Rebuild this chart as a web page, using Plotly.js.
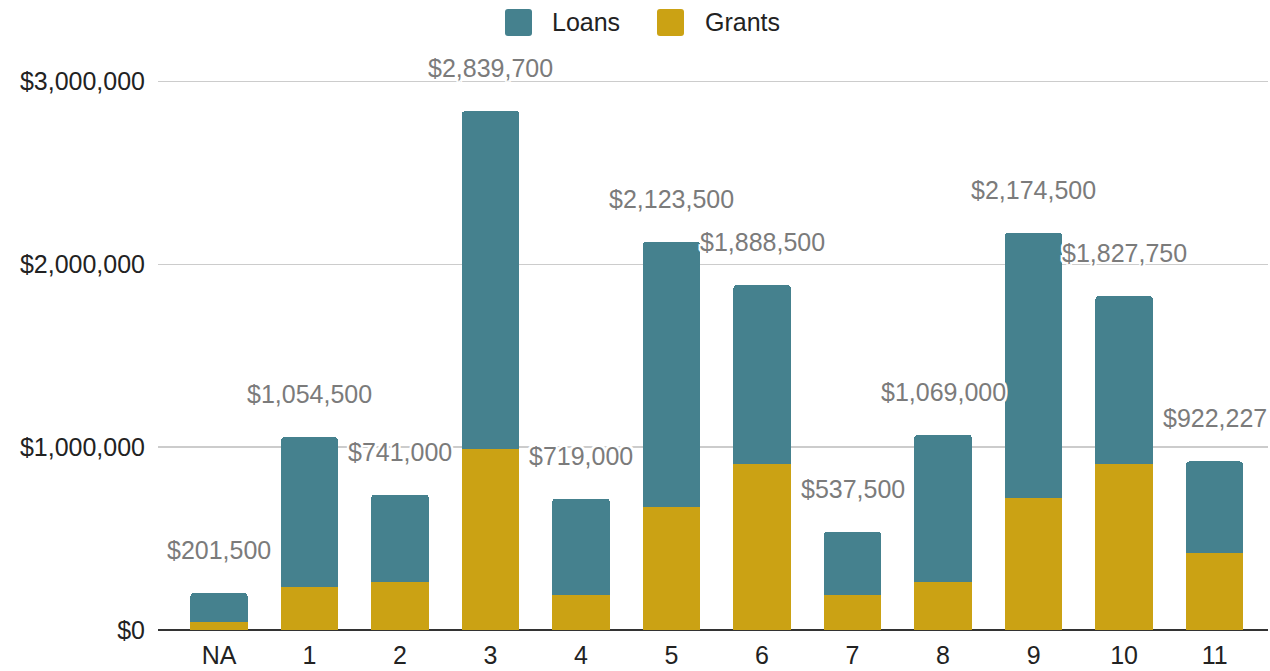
<!DOCTYPE html>
<html>
<head>
<meta charset="utf-8">
<script src="https://cdn.plot.ly/plotly-3.0.1.min.js"></script>
<style>html,body{margin:0;padding:0;background:#fff;}#chart{width:1270px;height:671px;}</style>
</head>
<body>
<div id="chart"></div>
<script>
const categories = ["NA", "1", "2", "3", "4", "5", "6", "7", "8", "9", "10", "11"];
const grants = [42000, 238000, 262000, 990000, 189000, 671000, 906000, 189000, 262000, 721000, 906000, 422000];
const loans = [159500, 816500, 479000, 1849700, 530000, 1452500, 982500, 348500, 807000, 1453500, 921750, 500227];
const totals = [201500, 1054500, 741000, 2839700, 719000, 2123500, 1888500, 537500, 1069000, 2174500, 1827750, 922227];
const seriesNames = ["Loans", "Grants"];
const yTicks = [0, 1000000, 2000000, 3000000];
const yTickLabels = ["$0", "$1,000,000", "$2,000,000", "$3,000,000"];

const LOAN_COLOR = "#45818e";
const GRANT_COLOR = "#cba214";
const FONT = "'Liberation Sans', Arial, sans-serif";

const traces = [
  {type: "bar", name: seriesNames[1], x: categories, y: grants, marker: {color: GRANT_COLOR}, hoverinfo: "skip"},
  {type: "bar", name: seriesNames[0], x: categories, y: loans, marker: {color: LOAN_COLOR}, hoverinfo: "skip"}
];

const halo = "-2px -2px 0 #fff, 2px -2px 0 #fff, -2px 2px 0 #fff, 2px 2px 0 #fff, 0 2px 0 #fff, 0 -2px 0 #fff, 2px 0 0 #fff, -2px 0 0 #fff";

const annotations = categories.map((c, i) => ({
  x: c, y: totals[i], xref: "x", yref: "y",
  text: "$" + totals[i].toLocaleString("en-US"),
  showarrow: false, yanchor: "middle", xanchor: "center", yshift: 43,
  font: {family: FONT, size: 25, color: "#7b7b7b", shadow: halo}
}));

// legend (drawn with paper-referenced shapes + text)
const PL = 158, PW = 1110, PB = 630, PH = 552;
const px2x = p => (p - PL) / PW;
const px2y = p => (PB - p) / PH;
const legendItems = [
  {name: seriesNames[0], color: LOAN_COLOR, x0: 505, tx: 550},
  {name: seriesNames[1], color: GRANT_COLOR, x0: 657, tx: 703}
];
const shapes = [];
legendItems.forEach(it => {
  const a = it.x0, b = it.x0 + 27, t = 9, u = 36, r = 3;
  const path = [
    "M", px2x(a + r), px2y(t),
    "L", px2x(b - r), px2y(t),
    "Q", px2x(b), px2y(t), px2x(b), px2y(t + r),
    "L", px2x(b), px2y(u - r),
    "Q", px2x(b), px2y(u), px2x(b - r), px2y(u),
    "L", px2x(a + r), px2y(u),
    "Q", px2x(a), px2y(u), px2x(a), px2y(u - r),
    "L", px2x(a), px2y(t + r),
    "Q", px2x(a), px2y(t), px2x(a + r), px2y(t), "Z"
  ].join(" ");
  shapes.push({type: "path", xref: "paper", yref: "paper", path: path, fillcolor: it.color, line: {width: 0}});
  annotations.push({xref: "paper", yref: "paper", x: px2x(it.tx), y: px2y(22.5),
    xanchor: "left", yanchor: "middle", showarrow: false, text: it.name,
    font: {family: FONT, size: 25, color: "#222"}});
});

const layout = {
  width: 1270, height: 671,
  margin: {l: PL, r: 2, t: 78, b: 41},
  paper_bgcolor: "#fff", plot_bgcolor: "#fff",
  barmode: "stack", bargap: 0.365, barcornerradius: 4,
  showlegend: false,
  font: {family: FONT, size: 25, color: "#222"},
  xaxis: {
    type: "category", range: [-0.674, 11.59], showgrid: false, zeroline: false,
    showline: false, ticks: "", tickfont: {family: FONT, size: 25, color: "#222"},
    ticklabelstandoff: 8
  },
  yaxis: {
    range: [0, 3020000], tickmode: "array", tickvals: yTicks, ticktext: yTickLabels,
    showgrid: true, gridcolor: "#cccccc", gridwidth: 1.5,
    zeroline: true, zerolinecolor: "#333333", zerolinewidth: 2,
    showline: false, ticks: "", ticklabelstandoff: 12,
    tickfont: {family: FONT, size: 25, color: "#222"}
  },
  annotations: annotations,
  shapes: shapes
};

Plotly.newPlot("chart", traces, layout, {displayModeBar: false, staticPlot: true});
</script>
</body>
</html>
